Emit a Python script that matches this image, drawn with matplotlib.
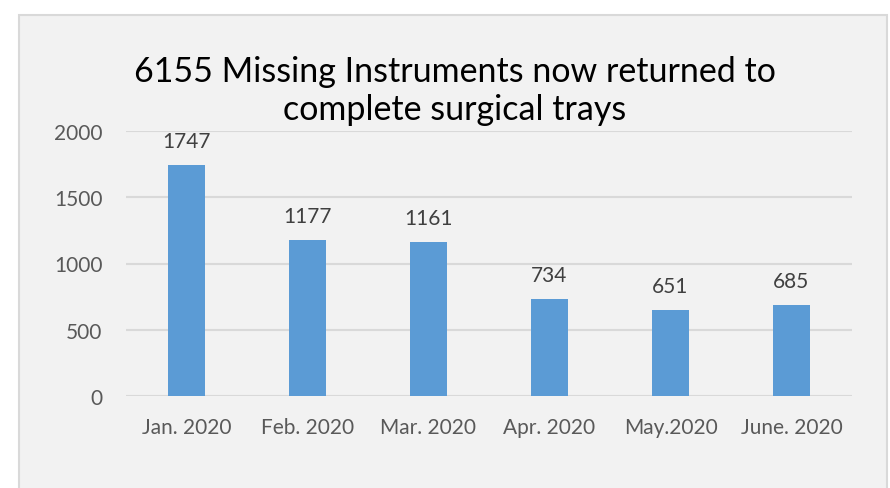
import matplotlib
matplotlib.use('Agg')
import matplotlib.pyplot as plt
from matplotlib.patches import Rectangle

months = ['Jan. 2020', 'Feb. 2020', 'Mar. 2020', 'Apr. 2020', 'May.2020', 'June. 2020']
returned = [1747, 1177, 1161, 734, 651, 685]
yticks = [0, 500, 1000, 1500, 2000]

plt.rcParams['font.family'] = ['Lato', 'DejaVu Sans']

fig = plt.figure(figsize=(8.9, 4.89), dpi=100)
fig.patch.set_facecolor('white')

# grey chart-area box like the office chart
fig.patches.append(Rectangle((19 / 890, -0.01), 868 / 890, 1 - 16 / 489 + 0.01,
                             transform=fig.transFigure, facecolor='#F2F2F2',
                             edgecolor='#D9D9D9', linewidth=1.5, zorder=-1))

ax = fig.add_axes([126 / 890, 1 - 397 / 489, 726 / 890, 265 / 489])
ax.set_facecolor('none')
ax.set_zorder(2)

x = range(len(months))
bars = ax.bar(x, returned, width=0.31, color='#5B9BD5', zorder=3)
for b, v in zip(bars, returned):
    ax.annotate(str(v), (b.get_x() + b.get_width() / 2, v), xytext=(0, 10),
                textcoords='offset points', ha='center', va='bottom',
                fontsize=15, color='#404040')

ax.set_xlim(-0.5, len(months) - 0.5)
ax.set_ylim(0, 2000)
ax.set_yticks(yticks)
ax.set_xticks(list(x))
ax.set_xticklabels(months)
ax.tick_params(axis='both', length=0, labelsize=15, labelcolor='#595959')
ax.tick_params(axis='x', pad=15)
ax.tick_params(axis='y', pad=17)
ax.yaxis.grid(True, color='#D9D9D9', linewidth=1.5, zorder=0)
for s in ax.spines.values():
    s.set_visible(False)

fig.text(0.511, 1 - 72 / 489, '6155 Missing Instruments now returned to',
         ha='center', va='center', fontsize=24.5, color='#000000', zorder=3)
fig.text(0.511, 1 - 110 / 489, 'complete surgical trays',
         ha='center', va='center', fontsize=24.5, color='#000000', zorder=3)

fig.savefig('out.png', dpi=100)
